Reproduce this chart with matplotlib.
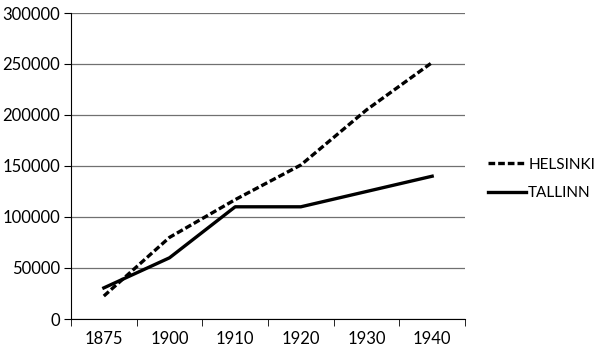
import matplotlib.pyplot as plt
import numpy as np

# data
years = ['1875', '1900', '1910', '1920', '1930', '1940']
helsinki = [22500, 80000, 117000, 151000, 205000, 251500]
tallinn = [30500, 60000, 110000, 110000, 125000, 140000]

plt.rcParams['font.family'] = ['Lato', 'DejaVu Sans']

fig = plt.figure(figsize=(6, 3.54), dpi=100)
ax = fig.add_axes([71 / 600, 1 - 319 / 354, 394 / 600, 306 / 354])

x = np.arange(len(years))
ax.plot(x, helsinki, color='black', lw=2.4, dashes=(2.0, 0.9), label='HELSINKI')
ax.plot(x, tallinn, color='black', lw=2.4, label='TALLINN')

ax.set_xlim(-0.5, len(years) - 0.5)
ax.set_ylim(0, 300000)
ax.set_yticks(np.arange(0, 300001, 50000))
ax.yaxis.grid(True, color='#707070', lw=0.9)
ax.set_axisbelow(True)

ax.set_xticks(x)
ax.set_xticklabels(years)
ax.set_xticks(np.arange(-0.5, len(years)), minor=True)
ax.tick_params(axis='x', which='major', length=0, pad=9, labelsize=12)
ax.tick_params(axis='x', which='minor', length=5, direction='out', color='black')
ax.tick_params(axis='y', length=5, direction='out', labelsize=12, pad=3)

for s in ['top', 'right']:
    ax.spines[s].set_visible(False)
ax.spines['left'].set_color('black')
ax.spines['bottom'].set_color('black')

fig.legend(loc='upper left', bbox_to_anchor=(474 / 600, 1 - 144 / 354), frameon=False,
           fontsize=11, handlelength=2.5, handletextpad=0.15, labelspacing=0.95)

fig.savefig('out.png', dpi=100)
